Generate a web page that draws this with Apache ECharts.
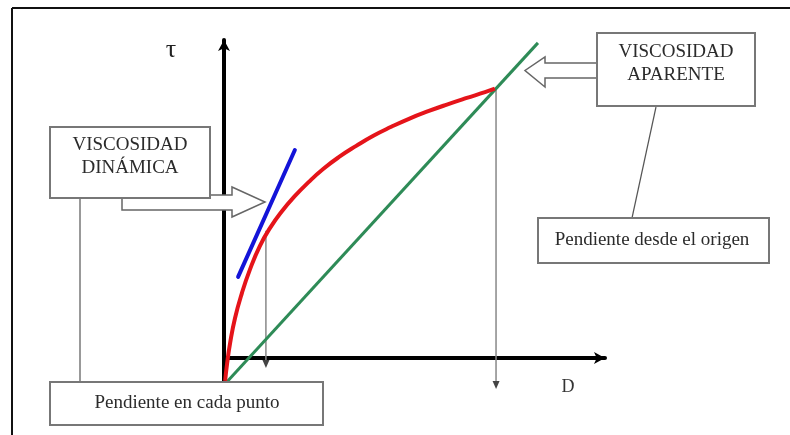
<!DOCTYPE html>
<html>
<head>
<meta charset="utf-8">
<script src="https://cdn.jsdelivr.net/npm/echarts@6/dist/echarts.min.js"></script>
<style>html,body{margin:0;padding:0;background:#fff;}#c{width:790px;height:435px;}</style>
</head>
<body>
<div id="c"></div>
<script>
// Flow curve tau(D) (shear stress vs shear rate)
const flowCurve = [[0.03,-0.72],[0.08,-0.19],[0.16,0.47],[0.29,1.26],[0.47,2.04],[0.68,2.78],[0.94,3.52],[1.21,4.09],[1.51,4.60],[1.85,5.08],[2.22,5.53],[2.61,5.95],[3.03,6.33],[3.47,6.67],[3.92,6.99],[4.39,7.27],[4.87,7.53],[5.36,7.76],[5.85,7.97],[6.35,8.17],[6.85,8.36],[7.11,8.47]];
// Secant from origin (apparent viscosity)
const apparentLine = [[0.08,-0.75],[8.24,9.91]];
// Tangent line (dynamic viscosity)
const tangentLine = [[0.37,2.55],[1.86,6.54]];
// Drop lines from curve points to the D axis
const dropLeft = [[1.10,4.0],[1.10,-0.19]];
const dropRight = [[7.14,8.43],[7.14,-0.85]];
// Axis ranges
const dRange = [0, 10];
const tauRange = [-0.755, 10];
// Texts
const axisNames = {tau: 'τ', d: 'D'};
const boxTexts = {
  dinamica: 'VISCOSIDAD\nDINÁMICA',
  aparente: 'VISCOSIDAD\nAPARENTE',
  cadaPunto: 'Pendiente en cada punto',
  origen: 'Pendiente desde el origen'
};

const FONT = '"Liberation Serif", "DejaVu Serif", serif';
const chart = echarts.init(document.getElementById('c'), null, {renderer: 'canvas'});

function dropSeries(data) {
  return {
    type: 'line', data: data.map((p, i) => i === data.length - 1 ?
      {value: p, symbol: 'triangle', symbolRotate: 180, symbolSize: [7, 8], itemStyle: {color: '#444'}} :
      {value: p, symbol: 'none'}),
    lineStyle: {color: '#888', width: 1.5}, clip: false, silent: true, z: 3, animation: false
  };
}

const textStyle = (t, x, y) => ({type: 'text', x: x, y: y, z: 120,
  style: {text: t, font: '19px ' + FONT, fill: '#2b2b2b', align: 'center', verticalAlign: 'middle', lineHeight: 23}});

chart.setOption({
  backgroundColor: '#fff',
  animation: false,
  grid: {left: 224, right: 185, top: 40, bottom: 53},
  xAxis: {type: 'value', min: dRange[0], max: dRange[1],
    axisLine: {show: true, onZero: true, symbol: ['none', 'arrow'], symbolSize: [9, 11], lineStyle: {color: '#000', width: 4}},
    axisTick: {show: false}, axisLabel: {show: false}, splitLine: {show: false}},
  yAxis: {type: 'value', min: tauRange[0], max: tauRange[1],
    axisLine: {show: true, onZero: true, symbol: ['none', 'arrow'], symbolSize: [9, 11], lineStyle: {color: '#000', width: 4}},
    axisTick: {show: false}, axisLabel: {show: false}, splitLine: {show: false}},
  series: [
    dropSeries(dropLeft),
    dropSeries(dropRight),
    {type: 'line', data: apparentLine, symbol: 'none', lineStyle: {color: '#2e8b57', width: 3}, clip: false, z: 4},
    {type: 'line', data: flowCurve, smooth: 0.5, symbol: 'none', lineStyle: {color: '#e5141a', width: 4, join: 'round'}, clip: false, z: 5},
    {type: 'line', data: tangentLine, symbol: 'none', lineStyle: {color: '#1414d8', width: 4, cap: 'round'}, clip: false, z: 6}
  ],
  graphic: [
    // frame
    {type: 'line', z: 1, shape: {x1: 12, y1: 8, x2: 790, y2: 8}, style: {stroke: '#111', lineWidth: 2}},
    {type: 'line', z: 1, shape: {x1: 12, y1: 8, x2: 12, y2: 435}, style: {stroke: '#111', lineWidth: 2}},
    // connectors
    {type: 'line', z: 90, shape: {x1: 80, y1: 198, x2: 80, y2: 382}, style: {stroke: '#777', lineWidth: 1.5}},
    {type: 'line', z: 90, shape: {x1: 656, y1: 107, x2: 632, y2: 218}, style: {stroke: '#555', lineWidth: 1.2}},
    // hollow arrows
    {type: 'polygon', z: 100, shape: {points: [[122,195],[232,195],[232,187],[265,202],[232,217],[232,210],[122,210]]},
      style: {fill: '#fff', stroke: '#666', lineWidth: 1.5}},
    {type: 'polygon', z: 100, shape: {points: [[600,63],[545,63],[545,57],[525,70.5],[545,87],[545,78],[600,78]]},
      style: {fill: '#fff', stroke: '#666', lineWidth: 1.5}},
    // boxes
    {type: 'rect', z: 110, shape: {x: 50, y: 127, width: 160, height: 71}, style: {fill: '#fff', stroke: '#777', lineWidth: 2}},
    {type: 'rect', z: 110, shape: {x: 597, y: 33, width: 158, height: 73}, style: {fill: '#fff', stroke: '#777', lineWidth: 2}},
    {type: 'rect', z: 110, shape: {x: 50, y: 382, width: 273, height: 43}, style: {fill: '#fff', stroke: '#777', lineWidth: 2}},
    {type: 'rect', z: 110, shape: {x: 538, y: 218, width: 231, height: 45}, style: {fill: '#fff', stroke: '#777', lineWidth: 2}},
    textStyle(boxTexts.dinamica, 130, 157),
    textStyle(boxTexts.aparente, 676, 64),
    textStyle(boxTexts.cadaPunto, 187, 403),
    textStyle(boxTexts.origen, 652, 240),
    // axis names
    {type: 'text', x: 171, y: 50, z: 120, style: {text: axisNames.tau, font: '26px ' + FONT, fill: '#222', align: 'center', verticalAlign: 'middle'}},
    {type: 'text', x: 568, y: 387, z: 120, style: {text: axisNames.d, font: '18px ' + FONT, fill: '#333', align: 'center', verticalAlign: 'middle'}}
  ]
});
</script>
</body>
</html>
